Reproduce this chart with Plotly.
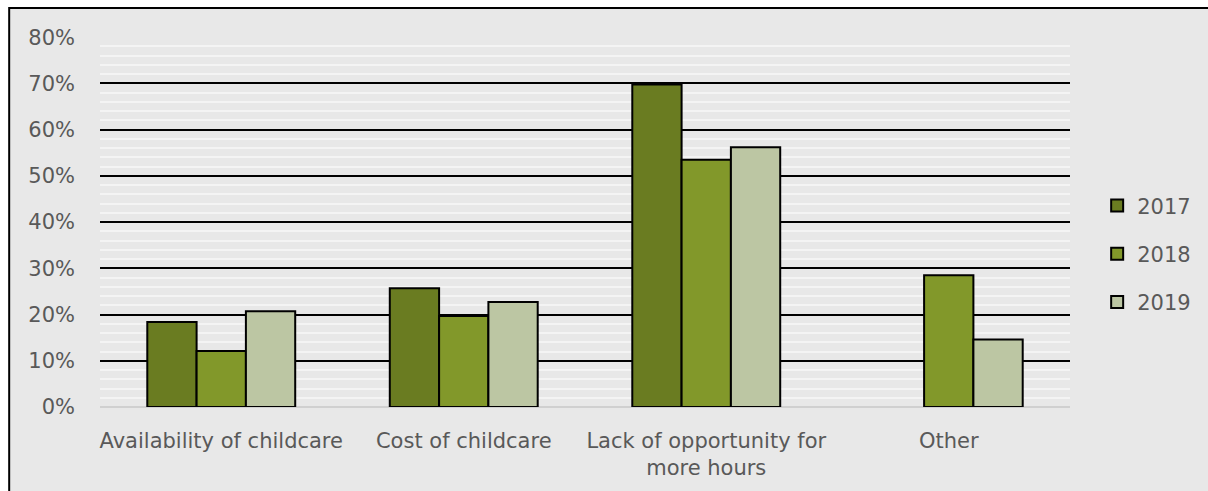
import plotly.graph_objects as go

categories = ["Availability of childcare", "Cost of childcare",
              "Lack of opportunity for<br>more hours", "Other"]
series_names = ["2017", "2018", "2019"]
values_2017 = [0.184, 0.257, 0.698, None]
values_2018 = [0.121, 0.197, 0.535, 0.285]
values_2019 = [0.207, 0.227, 0.562, 0.146]
colors = ["#6A7C21", "#82982A", "#BCC6A3"]
y_ticks = [0, 0.1, 0.2, 0.3, 0.4, 0.5, 0.6, 0.7, 0.8]

FONT = "DejaVu Sans"
TXT = "#595959"
FS = 21

fig = go.Figure()
for name, vals, col in zip(series_names, [values_2017, values_2018, values_2019], colors):
    fig.add_trace(go.Bar(
        x=categories, y=vals, name=name, legendgroup=name,
        marker=dict(color=col, line=dict(color="black", width=2)),
    ))

W, H = 1208, 491
L, R, T, B = 100, 136, 37, 84
pw, ph = W - L - R, H - T - B

fig.add_shape(type="rect", xref="paper", yref="paper",
              x0=(9 - L) / pw, x1=(W + 20 - L) / pw,
              y0=-(B + 20) / ph, y1=(H - B - 8) / ph,
              fillcolor="#E8E8E8", line=dict(color="black", width=2), layer="below")

fig.update_layout(
    width=W, height=H,
    margin=dict(l=L, r=R, t=T, b=B, pad=0),
    paper_bgcolor="white", plot_bgcolor="rgba(0,0,0,0)",
    barmode="group", bargap=0.39, bargroupgap=0,
    font=dict(family=FONT, size=FS, color=TXT),
    showlegend=True,
    legend=dict(x=1.028, y=0.414, xanchor="left", yanchor="middle",
                font=dict(size=FS, color=TXT), tracegroupgap=18,
                bgcolor="rgba(0,0,0,0)"),
    xaxis=dict(showgrid=False, showline=False, ticks="", ticklabelstandoff=19,
               tickfont=dict(size=FS, color=TXT)),
    yaxis=dict(range=[0, 0.8005], tickvals=y_ticks, tickformat=".0%",
               showgrid=True, gridcolor="black", gridwidth=2,
               zeroline=True, zerolinecolor="#D0D0D0", zerolinewidth=2,
               showline=False, ticks="", ticklabelstandoff=24,
               tickfont=dict(size=FS, color=TXT),
               minor=dict(dtick=0.02, showgrid=True, gridcolor="#F4F4F4", gridwidth=1.5)),
)

fig.write_html(
    "out.html",
    config={"displayModeBar": False},
    post_script="document.body.style.margin='0';document.body.style.overflow='hidden';",
)
